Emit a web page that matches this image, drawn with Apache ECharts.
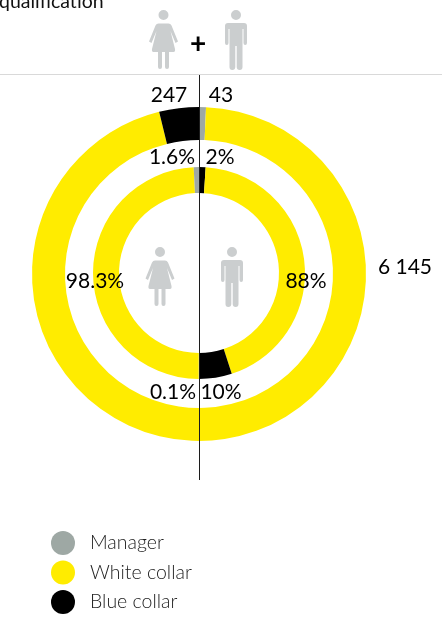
<!DOCTYPE html>
<html><head><meta charset="utf-8">
<style>html,body{margin:0;padding:0;background:#fff}#c{width:442px;height:617px}</style>
<script src="https://cdn.jsdelivr.net/npm/echarts@6/dist/echarts.min.js"></script>
</head><body><div id="c"></div>
<script>
const categories = ['Manager', 'White collar', 'Blue collar'];
const colors = { 'Manager': '#9ea8a4', 'White collar': '#ffec00', 'Blue collar': '#000000' };
// outer ring: head-count, clockwise from the top
const outerNames = ['Manager', 'White collar', 'Blue collar'];
const outerValues = [43, 6145, 247];
// inner ring: per cent, right half (men) then left half (women)
const innerNames = ['Blue collar', 'White collar', 'Blue collar', 'Manager', 'White collar', 'Manager'];
const innerValues = [2, 88, 10, 0.1, 98.3, 1.6];
const titleText = 'qualification';
const labels = [
  ['247', 169, 95], ['43', 221, 95], ['1.6%', 172, 157], ['2%', 220, 157],
  ['98.3%', 95, 281], ['88%', 306, 281], ['0.1%', 173, 392], ['10%', 221, 392], ['6 145', 405, 267]
];
const FONT = 'Lato, "Open Sans", sans-serif';
const ICON = '#cbcecf';
const womanPath = 'M-5,0a5,5 0 1,0 10,0a5,5 0 1,0 -10,0Z' +
  'M-5,8.5L5,8.5Q7,8.5 8,10.5L14.5,26.5L12,28L7,16L11.5,34Q12,37 10,37L5.5,37L5.5,52Q5.5,54 3.5,54Q1.5,54 1.5,52L1.5,37L-1.5,37L-1.5,52Q-1.5,54 -3.5,54Q-5.5,54 -5.5,52L-5.5,37L-10,37Q-12,37 -11.5,34L-7,16L-12,28L-14.5,26.5L-8,10.5Q-7,8.5 -5,8.5Z';
const manPath = 'M-5,0a5,5 0 1,0 10,0a5,5 0 1,0 -10,0Z' +
  'M-8,8L8,8Q11,8 11,11L11,28Q11,30 9.2,30Q7.5,30 7.5,28L7.5,14L6.5,14L6.5,52Q6.5,55 3.8,55Q0.7,55 0.7,52L0.7,31L-0.7,31L-0.7,52Q-0.7,55 -3.8,55Q-6.5,55 -6.5,52L-6.5,14L-7.5,14L-7.5,28Q-7.5,30 -9.2,30Q-11,30 -11,28L-11,11Q-11,8 -8,8Z';
echarts.graphic.registerShape('womanIcon', echarts.graphic.extendPath(womanPath, {}));
echarts.graphic.registerShape('manIcon', echarts.graphic.extendPath(manPath, {}));
const icon = (t, x, y) => ({ type: t, x, y, style: { fill: ICON }, silent: true });
const toData = (names, values) => values.map((v, i) => ({ name: names[i], value: v, itemStyle: { color: colors[names[i]] } }));
const pie = (names, values, r0, r1, cy) => ({
  type: 'pie', center: [199, cy], radius: [r0, r1], startAngle: 90, clockwise: true, silent: true,
  label: { show: false }, labelLine: { show: false }, itemStyle: { borderWidth: 0 }, data: toData(names, values), animation: false
});
const chart = echarts.init(document.getElementById('c'), null, { renderer: 'canvas' });
chart.setOption({
  backgroundColor: '#fff', animation: false,
  legend: {
    orient: 'vertical', left: 51, top: 531, padding: 0, itemWidth: 24, itemHeight: 24, itemGap: 5.5, icon: 'circle', selectedMode: false,
    data: categories, textStyle: { fontFamily: FONT, fontWeight: 300, fontSize: 19.5, color: '#222', padding: [0, 0, 3, 10] }
  },
  series: [pie(outerNames, outerValues, 134, 167, 274), pie(innerNames, innerValues, 80, 106, 273)],
  graphic: { elements: [
    { type: 'rect', shape: { x: 0, y: 74, width: 442, height: 1 }, style: { fill: '#d9d9d9' }, silent: true, z: 10 },
    { type: 'rect', shape: { x: 199, y: 75, width: 1, height: 405 }, style: { fill: '#1c1c1c' }, silent: true, z: 10 },
    { type: 'text', x: -1, y: 12, style: { text: titleText, font: '400 19.5px ' + FONT, fill: '#111', textAlign: 'left', textVerticalAlign: 'bottom' }, silent: true, z: 10 },
    { type: 'text', x: 198, y: 44, style: { text: '+', font: '700 28px ' + FONT, fill: '#000', textAlign: 'center', textVerticalAlign: 'middle' }, silent: true, z: 10 },
    icon('womanIcon', 163.5, 15), icon('manIcon', 236, 15), icon('womanIcon', 160, 252), icon('manIcon', 232, 252),
    ...labels.map(([t, x, y]) => ({ type: 'text', x, y, z: 10, silent: true,
      style: { text: t, font: '400 21px ' + FONT, fill: '#000', textAlign: 'center', textVerticalAlign: 'middle' } }))
  ] }
});
</script></body></html>
